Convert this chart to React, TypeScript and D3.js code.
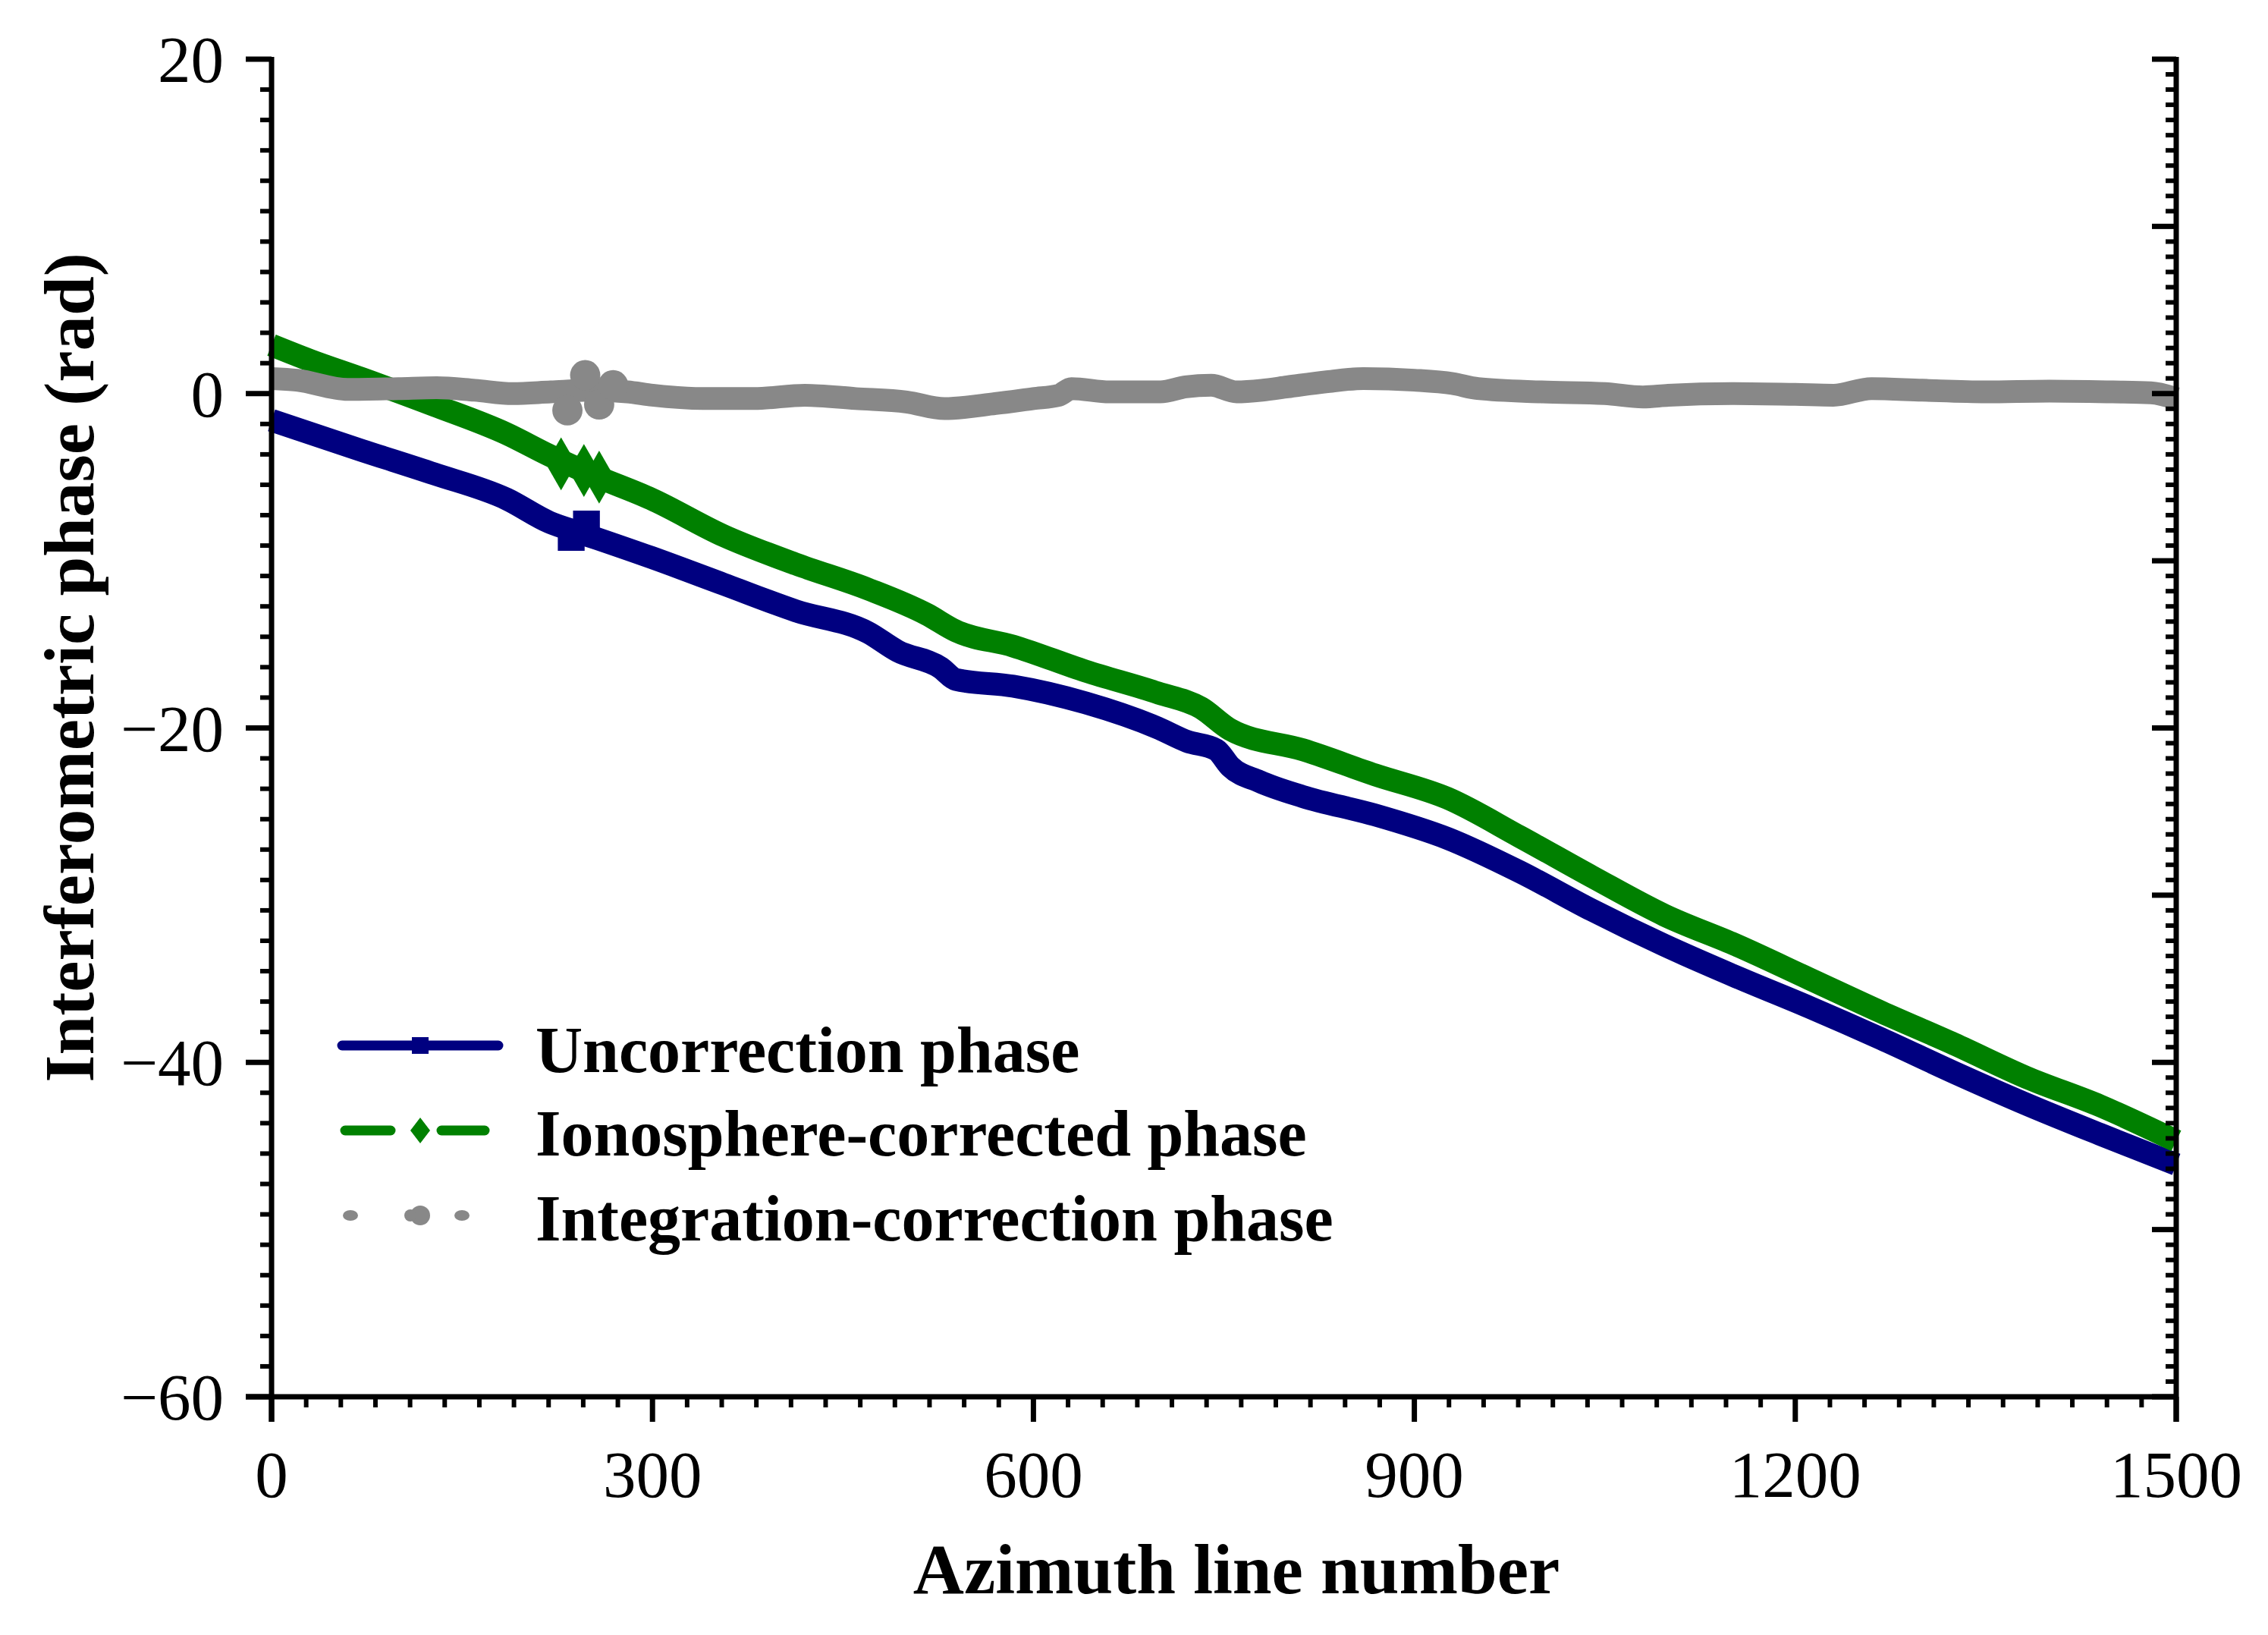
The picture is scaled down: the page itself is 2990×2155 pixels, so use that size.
import { useEffect, useRef } from 'react';
import * as d3 from 'd3';

const WIDTH = 2990;
const HEIGHT = 2155;
const PLOT = { left: 358, right: 2869, top: 78, bottom: 1841 };
const FONT = "'Liberation Serif', 'Times New Roman', serif";

const X_TICKS = [0, 300, 600, 900, 1200, 1500];
const Y_TICKS = [20, 0, -20, -40, -60];
const Y_TICK_LABELS = ['20', '0', '\u221220', '\u221240', '\u221260'];

// Uncorrection phase (navy)
const uncorrX = [0, 71, 128, 185, 219, 242, 299, 356, 413, 470, 493, 527, 539, 584, 641, 698, 721, 744, 755, 778, 812, 869, 926, 983, 1040, 1097, 1154, 1211, 1268, 1325, 1382, 1440, 1500];
const uncorrY = [-1.6, -3.4, -4.8, -6.3, -7.7, -8.3, -9.8, -11.4, -13.0, -14.3, -15.4, -16.4, -17.1, -17.5, -18.5, -20.0, -20.8, -21.3, -22.3, -23.2, -24.1, -25.2, -26.6, -28.6, -30.9, -33.0, -34.9, -36.7, -38.6, -40.6, -42.5, -44.3, -46.1];

// Ionosphere-corrected phase (green)
const ionoX = [0, 30, 71, 128, 185, 219, 254, 299, 356, 413, 470, 516, 539, 584, 641, 698, 732, 755, 812, 869, 926, 983, 1040, 1097, 1154, 1211, 1268, 1325, 1382, 1440, 1500];
const ionoY = [2.9, 2.0, 0.9, -0.7, -2.4, -3.7, -4.9, -6.3, -8.5, -10.2, -11.7, -13.2, -14.2, -15.1, -16.6, -17.9, -18.8, -20.1, -21.3, -22.8, -24.2, -26.5, -28.9, -31.2, -33.0, -35.0, -37.0, -38.9, -40.9, -42.6, -44.7];

// Integration-correction phase (grey)
const integX = [0, 20, 60, 100, 130, 160, 190, 220, 250, 280, 300, 340, 380, 420, 460, 500, 530, 570, 600, 620, 630, 660, 700, 720, 740, 760, 780, 800, 830, 860, 900, 930, 950, 1000, 1050, 1080, 1100, 1150, 1200, 1230, 1260, 1300, 1350, 1400, 1450, 1480, 1500];
const integY = [0.9, 0.8, 0.25, 0.3, 0.35, 0.2, 0.0, 0.1, 0.2, 0.1, -0.1, -0.3, -0.3, -0.1, -0.3, -0.5, -0.9, -0.6, -0.3, -0.1, 0.3, 0.1, 0.1, 0.4, 0.5, 0.1, 0.2, 0.4, 0.7, 0.9, 0.8, 0.6, 0.3, 0.1, 0.0, -0.2, -0.1, 0.0, -0.05, -0.1, 0.3, 0.2, 0.1, 0.15, 0.1, 0.05, -0.3];

// symbols that stick out of the thick lines
const uncorrMarkX = [236, 248];
const uncorrMarkY = [-8.6, -7.8];
const ionoMarkX = [228, 246, 258];
const ionoMarkY = [-4.2, -4.6, -5.0];
const integMarkX = [233, 247, 258, 269];
const integMarkY = [-1.0, 1.1, -0.65, 0.5];

const SERIES = [
  { name: 'Uncorrection phase', color: '#000080', xs: uncorrX, ys: uncorrY, mx: uncorrMarkX, my: uncorrMarkY, symbol: d3.symbolSquare },
  { name: 'Ionosphere-corrected phase', color: '#008000', xs: ionoX, ys: ionoY, mx: ionoMarkX, my: ionoMarkY, symbol: d3.symbolDiamond },
  { name: 'Integration-correction phase', color: '#888888', xs: integX, ys: integY, mx: integMarkX, my: integMarkY, symbol: d3.symbolCircle },
];

export default function App() {
  const svgRef = useRef<SVGSVGElement>(null);

  useEffect(() => {
    document.body.style.margin = '0';
    const svg = d3.select(svgRef.current);
    svg.selectAll('*').remove();

    const x = d3.scaleLinear().domain([0, 1500]).range([PLOT.left, PLOT.right]);
    const y = d3.scaleLinear().domain([-60, 20]).range([PLOT.bottom, PLOT.top]);

    svg.append('rect').attr('width', WIDTH).attr('height', HEIGHT).attr('fill', '#ffffff');

    // Data lines
    const line = d3
      .line<[number, number]>()
      .x((d) => x(d[0]))
      .y((d) => y(d[1]))
      .curve(d3.curveMonotoneX);

    SERIES.forEach((s, i) => {
      const pts = s.xs.map((v, k) => [v, s.ys[k]] as [number, number]);
      svg
        .append('path')
        .attr('d', line(pts))
        .attr('fill', 'none')
        .attr('stroke', s.color)
        .attr('stroke-width', 30)
        .attr('stroke-linejoin', 'round');
      s.mx.forEach((mv, k) => {
        svg
          .append('path')
          .attr('d', d3.symbol().type(s.symbol).size(i === 1 ? 1400 : 1250)())
          .attr('transform', `translate(${x(mv)},${y(s.my[k])})`)
          .attr('fill', s.color);
      });
    });

    const axisG = svg.append('g').attr('stroke', '#000');

    // Left axis
    axisG
      .append('line')
      .attr('x1', PLOT.left)
      .attr('x2', PLOT.left)
      .attr('y1', PLOT.top - 3)
      .attr('y2', PLOT.bottom + 33)
      .attr('stroke-width', 7);
    // Right axis
    axisG
      .append('line')
      .attr('x1', PLOT.right)
      .attr('x2', PLOT.right)
      .attr('y1', PLOT.top - 3)
      .attr('y2', PLOT.bottom + 33)
      .attr('stroke-width', 7);
    // Bottom axis
    axisG
      .append('line')
      .attr('x1', PLOT.left - 34)
      .attr('x2', PLOT.right + 3)
      .attr('y1', PLOT.bottom)
      .attr('y2', PLOT.bottom)
      .attr('stroke-width', 7);

    // Left ticks: major every 20, ten minors between
    for (let m = 0; m < Y_TICKS.length; m++) {
      const v = Y_TICKS[m];
      axisG
        .append('line')
        .attr('x1', PLOT.left - 34)
        .attr('x2', PLOT.left)
        .attr('y1', y(v))
        .attr('y2', y(v))
        .attr('stroke-width', 7);
      if (m < Y_TICKS.length - 1) {
        for (let k = 1; k <= 10; k++) {
          const mv = v - (k * 20) / 11;
          axisG
            .append('line')
            .attr('x1', PLOT.left - 15)
            .attr('x2', PLOT.left)
            .attr('y1', y(mv))
            .attr('y2', y(mv))
            .attr('stroke-width', 6);
        }
      }
    }

    // Right ticks: major every 10 pointing in, ten minors between
    const rightMajors = d3.range(20, -61, -10);
    rightMajors.forEach((v, m) => {
      axisG
        .append('line')
        .attr('x1', PLOT.right - 32)
        .attr('x2', PLOT.right)
        .attr('y1', y(v))
        .attr('y2', y(v))
        .attr('stroke-width', 7);
      if (m < rightMajors.length - 1) {
        for (let k = 1; k <= 10; k++) {
          const mv = v - (k * 10) / 11;
          axisG
            .append('line')
            .attr('x1', PLOT.right - 14)
            .attr('x2', PLOT.right)
            .attr('y1', y(mv))
            .attr('y2', y(mv))
            .attr('stroke-width', 6);
        }
      }
    });

    // Bottom ticks: major every 300, ten minors between
    X_TICKS.forEach((v, m) => {
      axisG
        .append('line')
        .attr('x1', x(v))
        .attr('x2', x(v))
        .attr('y1', PLOT.bottom)
        .attr('y2', PLOT.bottom + 33)
        .attr('stroke-width', 7);
      if (m < X_TICKS.length - 1) {
        for (let k = 1; k <= 10; k++) {
          const mv = v + (k * 300) / 11;
          axisG
            .append('line')
            .attr('x1', x(mv))
            .attr('x2', x(mv))
            .attr('y1', PLOT.bottom)
            .attr('y2', PLOT.bottom + 14)
            .attr('stroke-width', 6);
        }
      }
    });

    // Tick labels
    Y_TICKS.forEach((v, i) => {
      svg
        .append('text')
        .attr('x', 295)
        .attr('y', y(v) + 30)
        .attr('text-anchor', 'end')
        .attr('font-family', FONT)
        .attr('font-size', 87)
        .attr('fill', '#000')
        .text(Y_TICK_LABELS[i]);
    });
    X_TICKS.forEach((v) => {
      svg
        .append('text')
        .attr('x', x(v))
        .attr('y', 1973)
        .attr('text-anchor', 'middle')
        .attr('font-family', FONT)
        .attr('font-size', 87)
        .attr('fill', '#000')
        .text(String(v));
    });

    // Axis titles
    svg
      .append('text')
      .attr('x', 1630)
      .attr('y', 2100)
      .attr('text-anchor', 'middle')
      .attr('font-family', FONT)
      .attr('font-weight', 'bold')
      .attr('font-size', 93)
      .attr('fill', '#000')
      .text('Azimuth line number');
    svg
      .append('text')
      .attr('transform', 'translate(123,880) rotate(-90)')
      .attr('text-anchor', 'middle')
      .attr('font-family', FONT)
      .attr('font-weight', 'bold')
      .attr('font-size', 93)
      .attr('fill', '#000')
      .text('Interferometric phase (rad)');

    // Legend
    const legRows = [1378, 1490, 1602];
    const lx0 = 451;
    const lx1 = 657;
    const lxc = 554;
    SERIES.forEach((s, i) => {
      const ly = legRows[i];
      const g = svg.append('g');
      if (i === 0) {
        g.append('line')
          .attr('x1', lx0).attr('x2', lx1).attr('y1', ly).attr('y2', ly)
          .attr('stroke', s.color).attr('stroke-width', 13).attr('stroke-linecap', 'round');
        g.append('rect')
          .attr('x', lxc - 11).attr('y', ly - 11).attr('width', 22).attr('height', 22)
          .attr('fill', s.color);
      } else if (i === 1) {
        g.append('line')
          .attr('x1', lx0 + 4).attr('x2', 515).attr('y1', ly).attr('y2', ly)
          .attr('stroke', s.color).attr('stroke-width', 13).attr('stroke-linecap', 'round');
        g.append('line')
          .attr('x1', 582).attr('x2', 639).attr('y1', ly).attr('y2', ly)
          .attr('stroke', s.color).attr('stroke-width', 13).attr('stroke-linecap', 'round');
        g.append('path')
          .attr('d', `M${lxc},${ly - 17}L${lxc + 13},${ly}L${lxc},${ly + 17}L${lxc - 13},${ly}Z`)
          .attr('fill', s.color);
      } else {
        [462, 609].forEach((cx) => {
          g.append('ellipse')
            .attr('cx', cx).attr('cy', ly).attr('rx', 10).attr('ry', 7)
            .attr('fill', s.color);
        });
        g.append('circle')
          .attr('cx', 554).attr('cy', ly).attr('r', 13)
          .attr('fill', s.color);
        g.append('ellipse')
          .attr('cx', 541).attr('cy', ly).attr('rx', 8).attr('ry', 8)
          .attr('fill', s.color);
      }
      svg
        .append('text')
        .attr('x', 706)
        .attr('y', [1413, 1523, 1635][i])
        .attr('font-family', FONT)
        .attr('font-weight', 'bold')
        .attr('font-size', 86)
        .attr('fill', '#000')
        .text(s.name);
    });
  }, []);

  return <svg ref={svgRef} width={WIDTH} height={HEIGHT} style={{ display: 'block' }} />;
}
